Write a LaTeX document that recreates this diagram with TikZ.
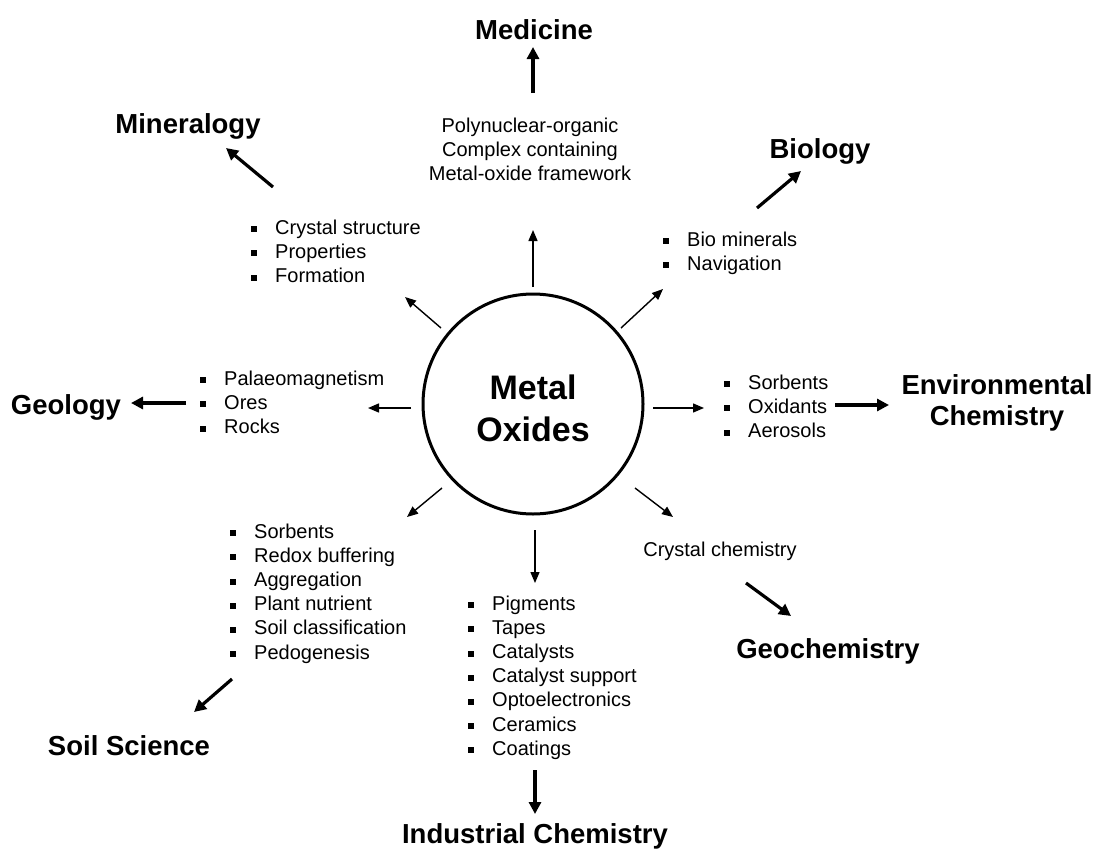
\documentclass[tikz,border=0pt]{standalone}
\usepackage{fontspec}
\setmainfont{Liberation Sans}
\usetikzlibrary{arrows.meta}
% square bullet followed by the gap before the item text
\newcommand\bitem{\strut\rule[2pt]{6pt}{6pt}\hspace{18pt}}
\begin{document}
\begin{tikzpicture}[x=1pt,y=-1pt,
  small/.style={font=\fontsize{20}{24.2}\selectfont, inner sep=0pt},
  head/.style={font=\bfseries\fontsize{27.5}{31}\selectfont, inner sep=0pt},
  listbox/.style={small, align=left, anchor=north west},
  thinarrow/.style={line width=1.4pt, -{Triangle[length=11pt,width=9pt]}},
  thickarrow/.style={line width=3.2pt, -{Triangle[length=12pt,width=12pt]}},
]
\useasboundingbox (0,0) rectangle (1094,854);
\fill[white] (0,0) rectangle (1094,854);

% central circle
\node[circle, draw, line width=3pt, minimum size=220pt, inner sep=0pt] (core) at (533,404) {};
\node[font=\bfseries\fontsize{34}{42}\selectfont, align=center, anchor=north, inner sep=0pt]
  (coretext) at (533,370) {\strut Metal\\\strut Oxides};

% fields
\node[head, anchor=base] (medicine) at (534,39) {Medicine};
\node[head, anchor=base] (mineralogy) at (188,133) {Mineralogy};
\node[head, anchor=base] (biology) at (820,158) {Biology};
\node[head, anchor=base] (geology) at (66,414) {Geology};
\node[head, align=center, anchor=north] (envchem) at (997,373) {\strut Environmental\\\strut Chemistry};
\node[head, anchor=base] (geochem) at (828,658) {Geochemistry};
\node[head, anchor=base] (soil) at (129,755) {Soil Science};
\node[head, anchor=base] (industrial) at (535,843) {Industrial Chemistry};

% topics
\node[small, align=center, anchor=north] (poly) at (530,115)
  {\strut Polynuclear-organic\\\strut Complex containing\\\strut Metal-oxide framework};
\node[listbox] (minlist) at (251,217)
  {\bitem Crystal structure\\\bitem Properties\\\bitem Formation};
\node[listbox] (biolist) at (663,229)
  {\bitem Bio minerals\\\bitem Navigation};
\node[listbox] (geolist) at (200,368)
  {\bitem Palaeomagnetism\\\bitem Ores\\\bitem Rocks};
\node[listbox] (envlist) at (724,372)
  {\bitem Sorbents\\\bitem Oxidants\\\bitem Aerosols};
\node[small, anchor=base] (crystchem) at (720,556) {Crystal chemistry};
\node[listbox] (soillist) at (230,521)
  {\bitem Sorbents\\\bitem Redox buffering\\\bitem Aggregation\\\bitem Plant nutrient\\\bitem Soil classification\\\bitem Pedogenesis};
\node[listbox] (indlist) at (468,593)
  {\bitem Pigments\\\bitem Tapes\\\bitem Catalysts\\\bitem Catalyst support\\\bitem Optoelectronics\\\bitem Ceramics\\\bitem Coatings};

% arrow ends: circle -> topics
\coordinate (nS) at (533,287);  \coordinate (nE) at (533,230);
\coordinate (nwS) at (441,328); \coordinate (nwE) at (405,297);
\coordinate (neS) at (621,328); \coordinate (neE) at (663,289);
\coordinate (wS) at (411,408);  \coordinate (wE) at (368,408);
\coordinate (eS) at (653,408);  \coordinate (eE) at (704,408);
\coordinate (swS) at (442,488); \coordinate (swE) at (407,517);
\coordinate (sS) at (535,530);  \coordinate (sE) at (535,583);
\coordinate (seS) at (635,488); \coordinate (seE) at (673,517);

% arrow ends: topics -> fields
\coordinate (mdS) at (533,93);  \coordinate (mdE) at (533,47);
\coordinate (mnS) at (273,187); \coordinate (mnE) at (226,148);
\coordinate (bS) at (757,208);  \coordinate (bE) at (801,171);
\coordinate (gS) at (186,403);  \coordinate (gE) at (131,403);
\coordinate (ecS) at (835,405); \coordinate (ecE) at (889,405);
\coordinate (gcS) at (746,583); \coordinate (gcE) at (791,616);
\coordinate (ssS) at (232,679); \coordinate (ssE) at (194,712);
\coordinate (icS) at (535,770); \coordinate (icE) at (535,814);

\foreach \a in {n,nw,ne,w,e,sw,s,se}
  \draw[thinarrow] (\a S) -- (\a E);
\foreach \a in {md,mn,b,g,ec,gc,ss,ic}
  \draw[thickarrow] (\a S) -- (\a E);
\end{tikzpicture}
\end{document}
